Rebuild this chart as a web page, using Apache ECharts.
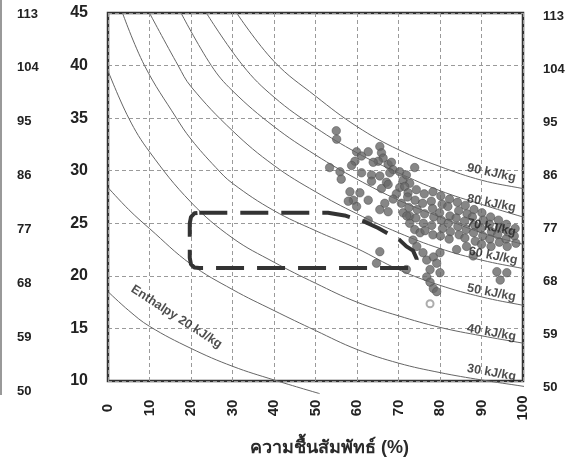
<!DOCTYPE html>
<html>
<head>
<meta charset="utf-8">
<script src="https://cdn.jsdelivr.net/npm/echarts/dist/echarts.min.js"></script>
<style>
html,body{margin:0;padding:0;background:#fff;}
#chart{width:571px;height:471px;}
</style>
</head>
<body>
<div id="chart"></div>
<script>
// ---- data ----
const fahrenheitTicks = ['50','59','68','77','86','95','104','113'];

const enthalpy20 = [[0,18.5],[5,16.7],[10,15.2],[20,13.1],[30,11.4],[40,10.1],[51,8.8]];
const enthalpy30 = [[0,28.4],[5,26.3],[10,24.5],[20,21.1],[30,18.7],[40,16.7],[50,14.8],[60,13.0],[70,11.7],[80,10.8],[90,10.1],[100,9.5],[103,9.3]];
const enthalpy40 = [[0,39.5],[5,35.0],[10,31.8],[20,27.0],[30,23.6],[40,21.3],[50,19.3],[60,17.5],[70,16.2],[80,15.1],[90,14.3],[100,13.6],[103,13.4]];
const enthalpy50 = [[3.5,45],[8.8,40],[16.5,35],[20,33.0],[26,30.3],[30,28.8],[40,26.2],[50,24.3],[60,22.6],[70,20.6],[80,19.1],[90,18.0],[100,17.2],[103,17.0]];
const enthalpy60 = [[10,45],[16.9,40],[20,38.0],[30,33.8],[40,30.5],[50,28.0],[60,25.9],[70,24.1],[80,22.6],[90,21.5],[100,20.7],[103,20.5]];
const enthalpy70 = [[17.6,45],[24.9,40],[30,37.6],[40,34.2],[50,31.5],[60,29.2],[70,27.2],[80,25.6],[90,24.1],[100,23.0],[103,22.7]];
const enthalpy80 = [[23.7,45],[32.5,40],[40,37.0],[50,34.1],[60,31.7],[70,29.8],[80,28.1],[90,26.8],[100,25.6],[103,25.3]];
const enthalpy90 = [[31,45],[40,40.4],[50,37.1],[60,34.2],[70,32.0],[80,30.4],[90,29.1],[100,28.3],[103,28.1]];

const curveLabels = ['Enthalpy 20 kJ/kg','30 kJ/kg','40 kJ/kg','50 kJ/kg','60 kJ/kg','70 kJ/kg','80 kJ/kg','90 kJ/kg'];
const labelAnchors = [[16.5,16.1],[92.4,10.8],[92.4,14.6],[92.4,18.4],[92.8,21.9],[92.4,24.6],[92.4,26.9],[92.4,29.8]];
const labelAngles = [-33,-10,-10,-11,-11,-11,-11,-12];

const comfortZone = [[22,26.0],[30,26.0],[40,26.0],[53,26.0],[57,25.75],[61.5,25.2],[65.1,24.55],[70.3,23.4],[71.9,22.8],[73.5,22.4],[74.4,21.6],[73.8,21.0],[72.5,20.75],[60,20.75],[40,20.75],[22,20.75],[20.8,20.8],[20.0,21.1],[19.7,21.7],[19.7,25.0],[20.0,25.6],[20.8,25.95],[22,26.0]];

const measured = [
 [55.0,33.8],[55.1,33.0],
 [53.4,30.3],[55.9,29.9],[56.2,29.2],
 [59.9,31.8],[61.1,31.4],[62.7,31.8],[59.5,30.9],[58.7,30.5],
 [65.5,32.3],[65.9,31.7],[66.3,31.2],[65.1,30.9],[63.9,30.8],
 [67.5,30.6],[68.3,30.8],[68.7,30.1],[67.9,29.8],
 [61.1,29.8],[63.5,29.6],[63.5,29.0],[65.5,29.5],[67.1,28.9],[65.9,28.3],[67.5,28.7],
 [70.3,29.9],[71.1,29.1],[71.9,29.6],[73.9,30.3],[72.7,28.8],[70.3,28.4],[69.5,27.8],
 [58.3,28.0],[59.1,27.2],[60.7,27.9],[62.7,27.2],[59.9,26.6],[57.9,27.1],
 [65.5,26.3],[62.7,25.3],[65.5,22.3],[64.7,21.2],
 [66.7,26.9],[68.7,27.3],[67.5,26.1],
 [71.5,28.5],[72.3,27.9],[70.7,26.9],[71.1,26.0],[72.7,25.7],
 [72.7,25.0],[73.9,24.4],[75.2,24.1],[73.5,23.4],[74.4,22.8],[71.9,20.6],
 [75.9,22.2],[76.8,21.5],[78.4,21.8],[80.0,22.2],[79.2,21.2],[77.6,20.6],[80.0,20.3],
 [84.0,22.5],[86.4,22.8],[88.0,21.9],
 [93.7,20.4],[94.5,19.6],[96.1,20.3],
 [76.8,19.9],[77.6,19.4],[78.4,18.8],[79.2,18.5],
 [72.2,27.5],[72.5,26.5],[72.0,25.7],
 [74.3,28.2],[74.0,27.2],[74.5,26.3],[74.2,25.5],
 [76.2,27.8],[75.8,26.9],[76.3,25.9],[76.0,25.0],[76.4,24.3],
 [78.3,28.0],[77.9,27.1],[78.2,26.4],[78.5,25.6],[78.0,24.8],[78.3,23.9],
 [80.2,27.6],[80.5,26.8],[79.9,26.0],[80.3,25.3],[80.6,24.5],[80.1,23.8],
 [82.3,27.3],[81.9,26.6],[82.4,25.7],[82.0,25.0],[82.5,24.2],[82.2,23.5],
 [84.2,27.0],[84.5,26.2],[83.9,25.5],[84.3,24.7],[84.6,23.9],
 [86.1,26.7],[86.5,25.9],[85.9,25.2],[86.3,24.4],[86.0,23.6],
 [88.2,26.3],[87.8,25.6],[88.4,24.8],[88.1,24.1],[88.5,23.3],
 [90.1,26.0],[90.4,25.3],[89.9,24.5],[90.3,23.8],[90.0,23.0],
 [92.2,25.6],[91.9,24.9],[92.4,24.2],[92.0,23.5],[92.3,22.8],
 [94.1,25.3],[94.4,24.6],[93.9,23.9],[94.3,23.2],
 [96.0,24.9],[96.3,24.2],[95.9,23.5],[96.2,22.8],
 [98.1,24.5],[97.9,23.8],[98.3,23.1]
];
const openPoint = [[77.6,17.35]];

// ---- chart ----
const FONT = '"Liberation Sans", Arial, sans-serif';
const chart = echarts.init(document.getElementById('chart'), null, {renderer:'canvas'});

const curveSets = [enthalpy20, enthalpy30, enthalpy40, enthalpy50, enthalpy60, enthalpy70, enthalpy80, enthalpy90];
const curveSeries = curveSets.map(d => ({
  type:'line', data:d, xAxisIndex:0, yAxisIndex:0,
  smooth:0.4, showSymbol:false, clip:false, silent:true,
  lineStyle:{color:'#666', width:1}, z:2
}));

const labelData = curveLabels.map((t,i) => ({
  value: labelAnchors[i], name: t,
  label: {rotate: labelAngles[i]}
}));

const tickText = {color:'#222', fontFamily:FONT, fontWeight:'bold'};

const option = {
  animation:false,
  backgroundColor:'#fff',
  graphic:[{type:'line', shape:{x1:1, y1:0, x2:1, y2:395}, style:{stroke:'#777', lineWidth:1.5}}],
  grid:[
    {left:108, right:48, top:13, bottom:90, show:true, borderColor:'#333', borderWidth:2.5, backgroundColor:'transparent'},
    {left:5, width:5, top:14, height:377},
    {left:530, width:5, top:16, height:371}
  ],
  xAxis:[
    {gridIndex:0, type:'value', min:0, max:100, interval:10,
     axisLine:{show:false}, axisTick:{show:false},
     splitLine:{show:true, lineStyle:{color:'#9a9a9a', width:1, type:[4,3]}},
     axisLabel:Object.assign({rotate:90, align:'center', verticalAlign:'middle', margin:27, fontSize:15}, tickText),
     name:'ความชื้นสัมพัทธ์ (%)', nameLocation:'middle', nameGap:58,
     nameTextStyle:{fontSize:18, fontWeight:'bold', color:'#2a2a2a', padding:[0,0,0,28]}},
    {gridIndex:1, type:'value', show:false, min:0, max:1},
    {gridIndex:2, type:'value', show:false, min:0, max:1}
  ],
  yAxis:[
    {gridIndex:0, type:'value', min:10, max:45, interval:5,
     axisLine:{show:false}, axisTick:{show:false},
     splitLine:{show:true, lineStyle:{color:'#9a9a9a', width:1, type:[4,3]}},
     axisLabel:Object.assign({margin:20, fontSize:16}, tickText)},
    {gridIndex:1, type:'category', position:'right', data:fahrenheitTicks, boundaryGap:false,
     axisLine:{show:false}, axisTick:{show:false}, splitLine:{show:false},
     axisLabel:Object.assign({margin:7, fontSize:13, interval:0}, tickText)},
    {gridIndex:2, type:'category', position:'right', data:fahrenheitTicks, boundaryGap:false,
     axisLine:{show:false}, axisTick:{show:false}, splitLine:{show:false},
     axisLabel:Object.assign({margin:8, fontSize:13, interval:0}, tickText)}
  ],
  series:[
    ...curveSeries,
    {type:'scatter', data:measured, xAxisIndex:0, yAxisIndex:0, symbol:'circle', symbolSize:8.5,
     itemStyle:{color:'#686868', borderColor:'#4a4a4a', borderWidth:0.6}, z:3, silent:true},
    {type:'scatter', data:openPoint, xAxisIndex:0, yAxisIndex:0, symbol:'circle', symbolSize:7,
     itemStyle:{color:'#fff', borderColor:'#999', borderWidth:2}, z:3, silent:true},
    {type:'line', data:comfortZone, xAxisIndex:0, yAxisIndex:0, showSymbol:false, smooth:false, clip:false, silent:true,
     lineStyle:{color:'#333', width:4, type:[28,13]}, z:4},
    {type:'scatter', data:labelData, xAxisIndex:0, yAxisIndex:0, symbolSize:1, silent:true,
     itemStyle:{color:'transparent'}, z:5,
     label:{show:true, position:'inside', formatter:'{b}', fontSize:12.5, fontWeight:'bold', color:'#222', fontFamily:FONT}}
  ]
};
chart.setOption(option);
</script>
</body>
</html>
